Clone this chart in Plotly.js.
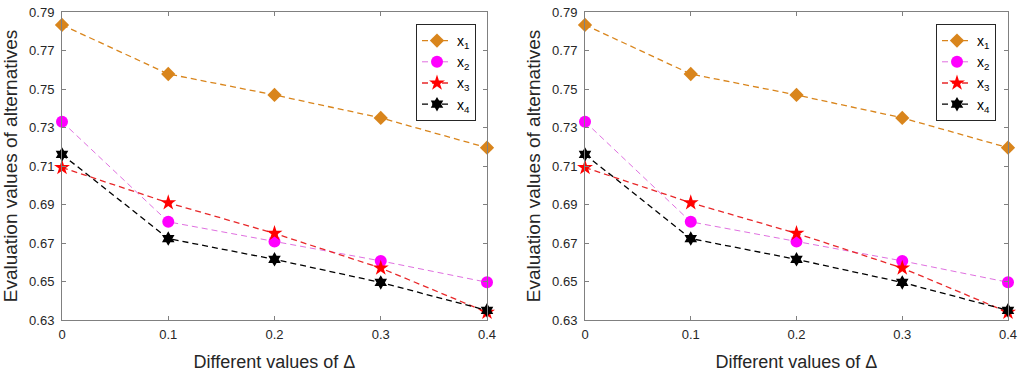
<!DOCTYPE html>
<html>
<head>
<meta charset="utf-8">
<script src="https://cdn.plot.ly/plotly-3.0.1.min.js"></script>
<style>html,body{margin:0;padding:0;background:#fff;}#chart{width:1024px;height:377px;}</style>
</head>
<body>
<div id="chart"></div>
<script>
const deltas = [0, 0.1, 0.2, 0.3, 0.4];
const x1Values = [0.7833, 0.7578, 0.7469, 0.7350, 0.7195];
const x2Values = [0.7330, 0.6810, 0.6708, 0.6607, 0.6496];
const x3Values = [0.7092, 0.6909, 0.6750, 0.6570, 0.6340];
const x4Values = [0.7160, 0.6723, 0.6615, 0.6495, 0.6350];
const seriesNames = ['x<sub>1</sub>', 'x<sub>2</sub>', 'x<sub>3</sub>', 'x<sub>4</sub>'];
const xTickVals = [0, 0.1, 0.2, 0.3, 0.4];
const xTickText = ['0', '0.1', '0.2', '0.3', '0.4'];
const yTickVals = [0.63, 0.65, 0.67, 0.69, 0.71, 0.73, 0.75, 0.77, 0.79];
const yTickText = ['0.63', '0.65', '0.67', '0.69', '0.71', '0.73', '0.75', '0.77', '0.79'];

const styles = [
  {line: {color: '#d9851c', width: 1.3, dash: '6px,4px'}, marker: {symbol: 'diamond', size: 11, color: '#d9851c'}},
  {line: {color: '#e070e0', width: 1, dash: '6px,4px'}, marker: {symbol: 'circle', size: 12, color: '#ff00ff'}},
  {line: {color: '#e8282a', width: 1.3, dash: '6px,4px'}, marker: {symbol: 'star', size: 12, color: '#ff0000'}},
  {line: {color: '#000000', width: 1.3, dash: '6px,4px'}, marker: {symbol: 'hexagram', size: 11, color: '#000000'}}
];
const allValues = [x1Values, x2Values, x3Values, x4Values];

const traces = [];
[['x', 'y', 'legend'], ['x2', 'y2', 'legend2']].forEach(([xa, ya, lg]) => {
  allValues.forEach((vals, i) => {
    traces.push({
      x: deltas, y: vals, type: 'scatter', mode: 'lines+markers',
      name: seriesNames[i], xaxis: xa, yaxis: ya, legend: lg,
      line: styles[i].line, marker: styles[i].marker, cliponaxis: false
    });
  });
});

const tickFont = {family: 'Liberation Sans, Arial, sans-serif', size: 13, color: '#262626'};
const titleFontY = {family: 'Liberation Sans, Arial, sans-serif', size: 19, color: '#262626'};
const titleFontX = {family: 'Liberation Sans, Arial, sans-serif', size: 18, color: '#262626'};

function xAxis(domain, anchor) {
  return {
    domain: domain, anchor: anchor, range: [0, 0.4], tickvals: xTickVals, ticktext: xTickText,
    ticks: 'inside', ticklen: 4, tickcolor: '#808080', showline: true, linecolor: '#808080', linewidth: 1,
    mirror: 'ticks', showgrid: false, zeroline: false, tickfont: tickFont, ticklabelstandoff: 2,
    title: {text: 'Different values of \u0394', font: titleFontX, standoff: 14}
  };
}
function yAxis(anchor) {
  return {
    domain: [0, 1], anchor: anchor, range: [0.63, 0.79], tickvals: yTickVals, ticktext: yTickText,
    ticks: 'inside', ticklen: 4, tickcolor: '#808080', showline: true, linecolor: '#808080', linewidth: 1,
    mirror: 'ticks', showgrid: false, zeroline: false, tickfont: tickFont, ticklabelstandoff: 4,
    title: {text: 'Evaluation values of alternatives', font: titleFontY, standoff: 6}
  };
}
const legendBase = {
  yref: 'paper', xref: 'paper', yanchor: 'top', xanchor: 'right',
  bgcolor: '#ffffff', bordercolor: '#262626', borderwidth: 1,
  font: {family: 'Liberation Sans, Arial, sans-serif', size: 14, color: '#000'},
  itemwidth: 30, tracegroupgap: 0
};

const layout = {
  width: 1024, height: 377,
  margin: {l: 0, r: 0, t: 12, b: 57},
  paper_bgcolor: '#ffffff', plot_bgcolor: '#ffffff',
  showlegend: true,
  xaxis: xAxis([62 / 1024, 487 / 1024], 'y'),
  yaxis: yAxis('x'),
  xaxis2: xAxis([585 / 1024, 1008 / 1024], 'y2'),
  yaxis2: yAxis('x2'),
  legend: Object.assign({}, legendBase, {x: 476 / 1024, y: 1 - 12 / 308}),
  legend2: Object.assign({}, legendBase, {x: 996 / 1024, y: 1 - 12 / 308})
};

Plotly.newPlot('chart', traces, layout, {displayModeBar: false, staticPlot: true});
</script>
</body>
</html>
